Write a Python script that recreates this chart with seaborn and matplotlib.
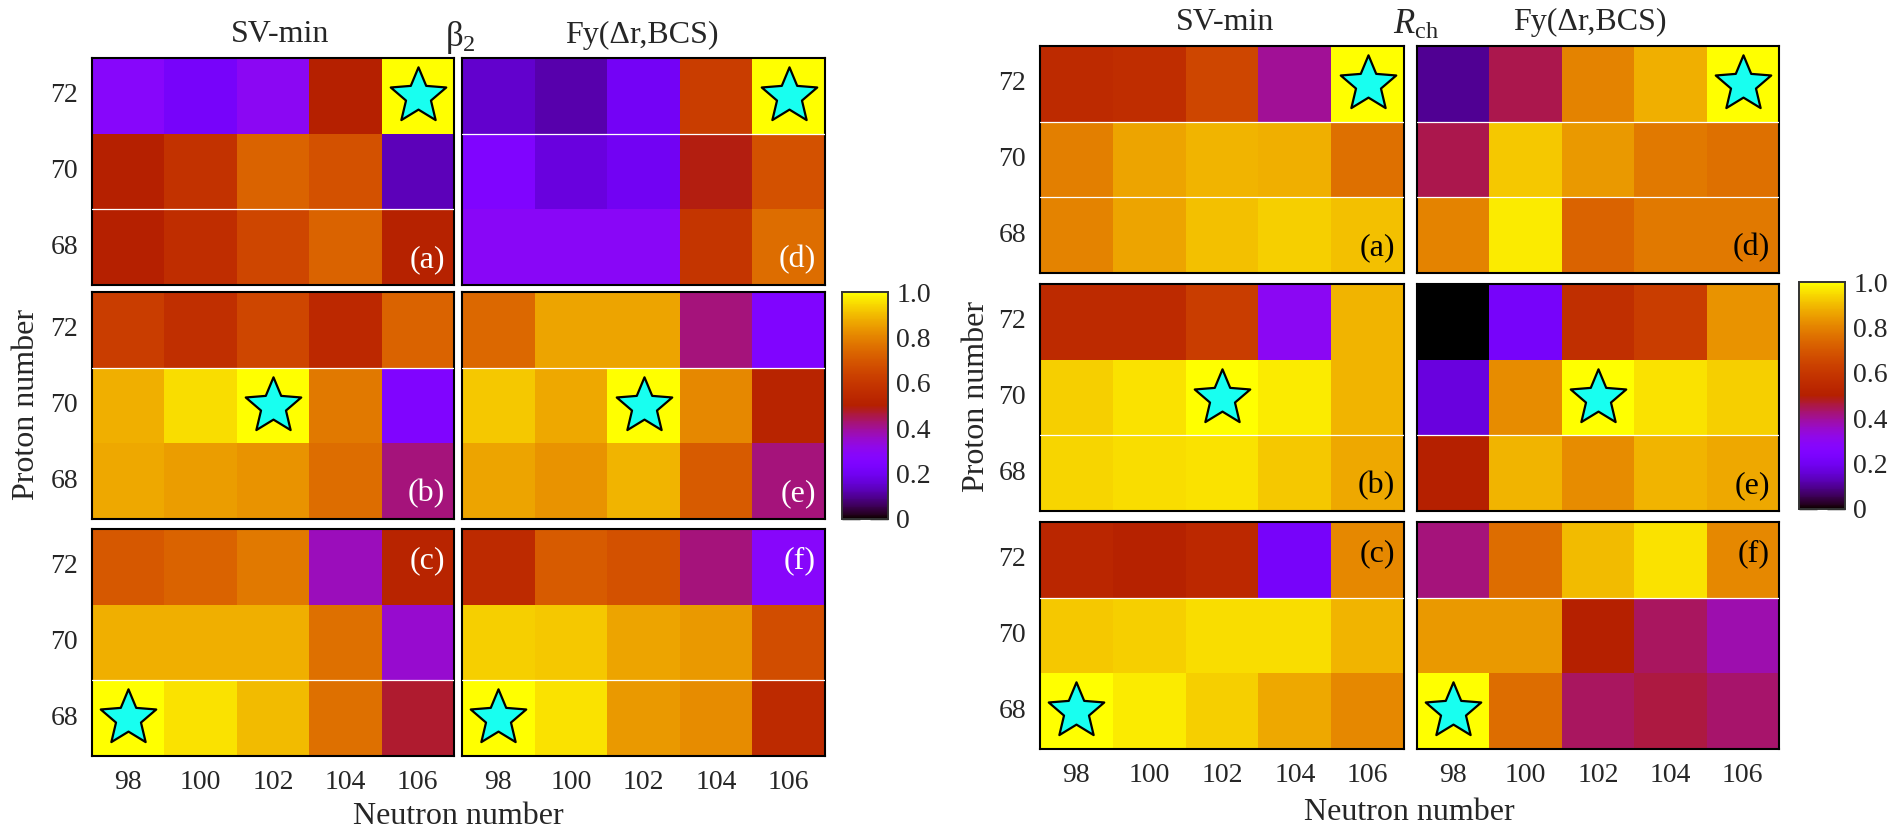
import numpy as np
import pandas as pd
import matplotlib
matplotlib.use("Agg")
import matplotlib.pyplot as plt
import seaborn as sns
from matplotlib.path import Path

sns.set_theme(style="white")
plt.rcParams["font.family"] = ["Liberation Serif", "DejaVu Serif"]
plt.rcParams["mathtext.fontset"] = "custom"
plt.rcParams["mathtext.rm"] = "Liberation Serif"
plt.rcParams["mathtext.it"] = "Liberation Serif:italic"

# ---------------- data ----------------
neutrons = [98, 100, 102, 104, 106]
protons = [72, 70, 68]

# beta_2 group (rows: Z=72, 70, 68)
beta2_a = [[0.28, 0.22, 0.30, 0.50, 1.00],
           [0.50, 0.58, 0.73, 0.68, 0.13],
           [0.50, 0.56, 0.65, 0.73, 0.51]]
beta2_b = [[0.62, 0.57, 0.65, 0.54, 0.73],
           [0.88, 0.95, 1.00, 0.78, 0.25],
           [0.87, 0.85, 0.83, 0.75, 0.42]]
beta2_c = [[0.70, 0.73, 0.78, 0.37, 0.52],
           [0.88, 0.88, 0.88, 0.76, 0.35],
           [1.00, 0.96, 0.90, 0.76, 0.47]]
beta2_d = [[0.15, 0.12, 0.21, 0.62, 1.00],
           [0.25, 0.17, 0.20, 0.49, 0.68],
           [0.29, 0.29, 0.29, 0.59, 0.75]]
beta2_e = [[0.74, 0.86, 0.86, 0.42, 0.25],
           [0.92, 0.87, 1.00, 0.81, 0.52],
           [0.86, 0.83, 0.89, 0.71, 0.42]]
beta2_f = [[0.55, 0.71, 0.68, 0.42, 0.28],
           [0.93, 0.92, 0.86, 0.84, 0.67],
           [1.00, 0.96, 0.84, 0.82, 0.55]]

# R_ch group
rch_a = [[0.55, 0.56, 0.65, 0.40, 1.00],
         [0.79, 0.86, 0.89, 0.88, 0.76],
         [0.80, 0.86, 0.91, 0.93, 0.91]]
rch_b = [[0.55, 0.55, 0.62, 0.30, 0.89],
         [0.93, 0.96, 1.00, 0.97, 0.89],
         [0.94, 0.95, 0.96, 0.92, 0.87]]
rch_c = [[0.53, 0.51, 0.54, 0.22, 0.81],
         [0.92, 0.93, 0.95, 0.95, 0.89],
         [1.00, 0.97, 0.93, 0.87, 0.81]]
rch_d = [[0.10, 0.45, 0.80, 0.88, 1.00],
         [0.45, 0.92, 0.84, 0.78, 0.76],
         [0.80, 0.97, 0.73, 0.78, 0.78]]
rch_e = [[0.00, 0.22, 0.57, 0.62, 0.83],
         [0.17, 0.82, 1.00, 0.96, 0.93],
         [0.50, 0.89, 0.82, 0.89, 0.87]]
rch_f = [[0.42, 0.75, 0.90, 0.96, 0.81],
         [0.84, 0.84, 0.50, 0.44, 0.38],
         [1.00, 0.75, 0.44, 0.46, 0.43]]

col_titles = ["SV-min", "Fy(Δr,BCS)"]
group_titles = ["$\\mathrm{β}_2$", "$R_{\\mathrm{ch}}$"]
panel_letters = [["(a)", "(b)", "(c)"], ["(d)", "(e)", "(f)"]]
cbar_ticks = [0, 0.2, 0.4, 0.6, 0.8, 1.0]
cbar_ticklabels = ["0", "0.2", "0.4", "0.6", "0.8", "1.0"]

# ---------------- layout (pixels) ----------------
W, H, DPI = 1887, 832, 100
fig = plt.figure(figsize=(W / DPI, H / DPI), dpi=DPI)
fig.patch.set_facecolor("white")


def rect(x0, x1, y0, y1):
    return [x0 / W, 1 - y1 / H, (x1 - x0) / W, (y1 - y0) / H]


groups = [
    dict(data=[[beta2_a, beta2_b, beta2_c], [beta2_d, beta2_e, beta2_f]],
         cols=[(92, 454), (462, 825)],
         rows=[(58, 285), (292, 519), (529, 756)],
         cbar=(842, 888, 292, 519),
         white_lines=[[[2], [1], [2]], [[1], [1], [2]]],
         letter_color="white",
         title_y=35, title_x=[280, 642], gtitle_x=460,
         ylabel_x=27, ylabel_y=405, xlabel_y=817,
         gtitle=group_titles[0]),
    dict(data=[[rch_a, rch_b, rch_c], [rch_d, rch_e, rch_f]],
         cols=[(1040, 1404), (1417, 1779)],
         rows=[(46, 273), (284, 511), (522, 749)],
         cbar=(1799, 1845, 282, 509),
         white_lines=[[[1, 2], [2], [1]], [[1, 2], [2], [1]]],
         letter_color="black",
         title_y=22, title_x=[1225, 1590], gtitle_x=1416,
         ylabel_x=976, ylabel_y=397, xlabel_y=813,
         gtitle=group_titles[1]),
]

star_path = Path.unit_regular_star(5, innerCircle=0.45)
cmap = "gnuplot"
TICK_FS = 20
LAB_FS = 23

for g in groups:
    cx0, cx1, cy0, cy1 = g["cbar"]
    cax = fig.add_axes(rect(cx0, cx1, cy0, cy1))
    for ci, (x0, x1) in enumerate(g["cols"]):
        for ri, (y0, y1) in enumerate(g["rows"]):
            ax = fig.add_axes(rect(x0, x1, y0, y1))
            arr = np.array(g["data"][ci][ri])
            df = pd.DataFrame(arr, index=protons, columns=neutrons)
            use_cbar = (ci == 1 and ri == 1)
            sns.heatmap(df, ax=ax, cmap=cmap, vmin=0, vmax=1,
                        cbar=use_cbar, cbar_ax=cax if use_cbar else None,
                        xticklabels=neutrons, yticklabels=protons)
            for yl in g["white_lines"][ci][ri]:
                ax.axhline(yl, color="white", lw=0.9, zorder=3)
            # star at the best cell
            r, c = np.unravel_index(np.argmax(arr), arr.shape)
            ax.plot(c + 0.5, r + 0.5, marker=star_path, ms=42,
                    mfc="#18FFF0", mec="black", mew=1.6, ls="none", zorder=5)
            for s in ax.spines.values():
                s.set_visible(True)
                s.set_color("black")
                s.set_linewidth(1.5)
            ax.tick_params(length=0, labelsize=TICK_FS, pad=10)
            ax.set_xlabel("")
            ax.set_ylabel("")
            if ri < 2:
                ax.set_xticklabels([])
            else:
                ax.set_xticklabels([str(n) for n in neutrons], rotation=0)
            if ci > 0:
                ax.set_yticklabels([])
            else:
                ax.set_yticklabels([str(p) for p in protons], rotation=0)
            # panel letter
            ly = 0.86 if ri == 2 else 0.11
            ax.text(0.975, ly, panel_letters[ci][ri], transform=ax.transAxes,
                    ha="right", va="center", fontsize=23, color=g["letter_color"],
                    zorder=6)
    # colorbar styling
    cax.set_yticks(cbar_ticks)
    cax.set_yticklabels(cbar_ticklabels)
    cax.tick_params(axis="y", which="both", direction="in", length=13,
                    width=1.0, color="black", left=True, right=True,
                    labelleft=False, labelright=True, labelsize=TICK_FS, pad=6)
    for s in cax.spines.values():
        s.set_visible(True)
        s.set_color("#333333")
        s.set_linewidth(1.2)

    # titles
    for i, t in enumerate(col_titles):
        fig.text(g["title_x"][i] / W, 1 - g["title_y"] / H, t, ha="center",
                 va="center", fontsize=LAB_FS)
    fig.text(g["gtitle_x"] / W, 1 - (g["title_y"] + 3) / H, g["gtitle"],
             ha="center", va="center", fontsize=LAB_FS + 2)
    fig.text(g["ylabel_x"] / W, 1 - g["ylabel_y"] / H, "Proton number",
             ha="center", va="center", rotation=90, fontsize=LAB_FS)
    xc = (g["cols"][0][0] + g["cols"][1][1]) / 2
    fig.text(xc / W, 1 - g["xlabel_y"] / H, "Neutron number",
             ha="center", va="center", fontsize=LAB_FS)

fig.savefig("out.png", dpi=DPI, facecolor="white")
